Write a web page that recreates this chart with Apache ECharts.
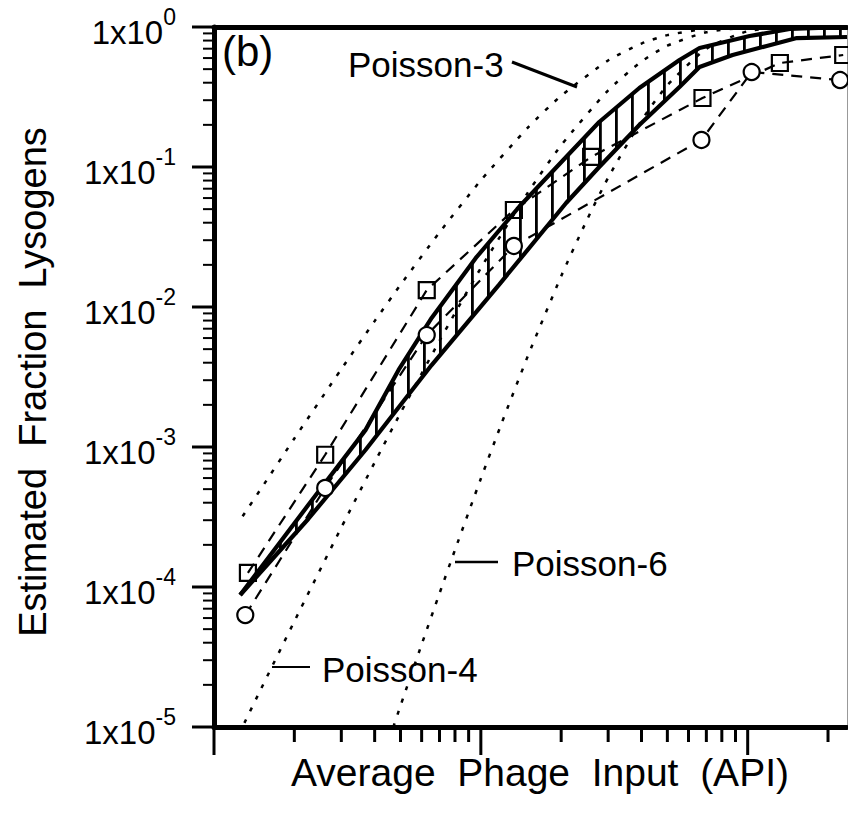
<!DOCTYPE html>
<html>
<head>
<meta charset="utf-8">
<script src="https://cdn.jsdelivr.net/npm/echarts@6/dist/echarts.min.js"></script>
<style>
  html, body { margin: 0; padding: 0; background: #fff; }
  #chart { width: 848px; height: 814px; }
</style>
</head>
<body>
<div id="chart"></div>
<script>
// Measured lysogen fractions vs. average phage input (API)
const squareApi  = [0.134, 0.261, 0.627, 1.33, 2.59, 6.77, 13.2, 22.8];
const squareFrac = [1.26e-4, 8.8e-4, 0.0132, 0.0493, 0.118, 0.311, 0.553, 0.631];
const circleApi  = [0.131, 0.261, 0.627, 1.33, 6.71, 10.35, 22.2];
const circleFrac = [6.3e-5, 5.1e-4, 6.3e-3, 0.0273, 0.156, 0.477, 0.418];

// Model range (hatched band): upper and lower edges
const bandUpperApi  = [0.1253, 0.2255, 0.3695, 0.4917, 0.654, 0.9576, 1.39, 2.087, 2.777, 3.926, 5.552, 6.6, 10.17, 14.38, 23.56];
const bandUpperFrac = [8.77e-5, 3.85e-4, 1.32e-3, 3.55e-3, 8.35e-3, 0.0224, 0.0518, 0.118, 0.2096, 0.3666, 0.581, 0.708, 0.862, 0.968, 1.0];
const bandLowerApi  = [0.1253, 0.2255, 0.3695, 0.654, 1.169, 2.087, 2.777, 3.926, 5.552, 6.6, 8.78, 11.79, 15.28, 23.56];
const bandLowerFrac = [8.77e-5, 3.06e-4, 9.52e-4, 3.85e-3, 0.0144, 0.0553, 0.1, 0.1995, 0.3727, 0.518, 0.631, 0.732, 0.834, 0.848];

// Poisson reference curves
const poisson3Api  = [0.128, 0.15, 0.2, 0.3, 0.4, 0.5, 0.7, 1, 1.5, 2, 3, 4, 5, 7, 10, 15, 23.56];
const poisson3Frac = [3.2e-4, 5.03e-4, 1.15e-3, 3.6e-3, 7.93e-3, 0.0144, 0.0341, 0.0803, 0.191, 0.323, 0.577, 0.762, 0.875, 0.970, 0.997, 1.0, 1.0];
const poisson4Api  = [0.13, 0.15, 0.2, 0.3, 0.4, 0.5, 0.7, 1, 1.5, 2, 3, 4, 5, 7, 10, 15, 23.56];
const poisson4Frac = [1.07e-5, 1.87e-5, 5.68e-5, 2.66e-4, 7.76e-4, 1.75e-3, 5.74e-3, 0.019, 0.0656, 0.143, 0.353, 0.567, 0.735, 0.918, 0.990, 1.0, 1.0];
const poisson6Api  = [0.47, 0.5, 0.6, 0.7, 0.8, 1, 1.2, 1.5, 2, 2.5, 3, 4, 5, 7, 10, 15, 23.56];
const poisson6Frac = [1.0e-5, 1.42e-5, 3.89e-5, 9.0e-5, 1.84e-4, 5.94e-4, 1.5e-3, 4.46e-3, 0.0166, 0.042, 0.0839, 0.215, 0.384, 0.699, 0.933, 0.997, 1.0];

// Axis ranges and tick values
const xRange = [0.1, 23.56];
const yRange = [1e-5, 1];
const xMajorTicks = [0.1, 1, 10];
const xMinorTicks = [0.2, 0.3, 0.4, 0.5, 0.6, 0.7, 0.8, 0.9, 2, 3, 4, 5, 6, 7, 8, 9, 20];
const yMajorTicks = [1e-5, 1e-4, 1e-3, 1e-2, 1e-1, 1];
const yMinorTicks = [];
for (let k = -5; k < 0; k++) {
  for (let m = 2; m <= 9; m++) yMinorTicks.push(m * Math.pow(10, k));
}

const FONT = '"Liberation Sans", Arial, Helvetica, sans-serif';
const zip = (a, b) => a.map((v, i) => [v, b[i]]);

// vertical hatching used inside the model band
const hatch = document.createElement('canvas');
hatch.width = 16; hatch.height = 16;
(function () {
  const g = hatch.getContext('2d');
  g.fillStyle = '#000';
  g.fillRect(7, 0, 2.8, 16);
})();

function tickSeries(values, onX, len, width) {
  return {
    type: 'custom',
    silent: true,
    clip: false,
    z: 5,
    data: values.map(v => onX ? [v, yRange[0]] : [xRange[0], v]),
    encode: { x: 0, y: 1 },
    renderItem(params, api) {
      const p = api.coord([api.value(0), api.value(1)]);
      const shape = onX
        ? { x1: p[0], y1: p[1], x2: p[0], y2: p[1] + len }
        : { x1: p[0], y1: p[1], x2: p[0] - len, y2: p[1] };
      return { type: 'line', shape, style: { stroke: '#000', lineWidth: width } };
    }
  };
}

const chart = echarts.init(document.getElementById('chart'), null, { renderer: 'svg' });

const hiddenAxis = {
  axisTick: { show: false }, axisLabel: { show: false }, splitLine: { show: false }
};
const textStyle = (size, align) => ({
  font: size + 'px ' + FONT, fill: '#000',
  align: align, verticalAlign: 'middle', textAlign: align, textVerticalAlign: 'middle'
});

chart.setOption({
  animation: false,
  backgroundColor: '#fff',
  grid: { left: 214, right: 1, top: 27, bottom: 87 },
  xAxis: [
    Object.assign({ type: 'log', logBase: 10, min: xRange[0], max: xRange[1], position: 'bottom',
      axisLine: { lineStyle: { color: '#000', width: 5 } } }, hiddenAxis),
    Object.assign({ type: 'log', logBase: 10, min: xRange[0], max: xRange[1], position: 'top',
      axisLine: { lineStyle: { color: '#000', width: 5 } } }, hiddenAxis)
  ],
  yAxis: [
    {
      type: 'log', logBase: 10, min: yRange[0], max: yRange[1], position: 'left',
      axisLine: { lineStyle: { color: '#000', width: 5 } },
      axisTick: { show: false },
      splitLine: { show: false },
      axisLabel: {
        margin: 38,
        formatter: v => '{n|1x10}{e|' + Math.round(Math.log10(v)) + '}',
        rich: {
          n: { fontSize: 33, fontFamily: FONT, color: '#000', lineHeight: 44, verticalAlign: 'bottom' },
          e: { fontSize: 23, fontFamily: FONT, color: '#000', lineHeight: 30, verticalAlign: 'top' }
        }
      }
    },
    Object.assign({ type: 'log', logBase: 10, min: yRange[0], max: yRange[1], position: 'right',
      axisLine: { lineStyle: { color: '#999', width: 1 } } }, hiddenAxis)
  ],
  series: [
    {
      type: 'custom',
      name: 'band',
      silent: true,
      z: 1,
      data: [[bandUpperApi[0], bandUpperFrac[0]]],
      encode: { x: 0, y: 1 },
      renderItem(params, api) {
        const pts = [];
        for (let i = 0; i < bandUpperApi.length; i++) pts.push(api.coord([bandUpperApi[i], bandUpperFrac[i]]));
        for (let i = bandLowerApi.length - 1; i >= 0; i--) pts.push(api.coord([bandLowerApi[i], bandLowerFrac[i]]));
        return {
          type: 'polygon',
          shape: { points: pts },
          style: { fill: { image: hatch, repeat: 'repeat', imageWidth: 16, imageHeight: 16 }, stroke: null }
        };
      }
    },
    {
      type: 'line', name: 'band upper', z: 2, symbol: 'none', silent: true,
      data: zip(bandUpperApi, bandUpperFrac),
      lineStyle: { color: '#000', width: 4.2 }
    },
    {
      type: 'line', name: 'band lower', z: 2, symbol: 'none', silent: true,
      data: zip(bandLowerApi, bandLowerFrac),
      lineStyle: { color: '#000', width: 4.2 }
    },
    {
      type: 'line', name: 'Poisson-3', z: 3, symbol: 'none', smooth: 0.2, silent: true,
      data: zip(poisson3Api, poisson3Frac),
      lineStyle: { color: '#000', width: 2.5, type: [4, 9] }
    },
    {
      type: 'line', name: 'Poisson-4', z: 3, symbol: 'none', smooth: 0.2, silent: true,
      data: zip(poisson4Api, poisson4Frac),
      lineStyle: { color: '#000', width: 2.5, type: [4, 9] }
    },
    {
      type: 'line', name: 'Poisson-6', z: 3, symbol: 'none', smooth: 0.2, silent: true,
      data: zip(poisson6Api, poisson6Frac),
      lineStyle: { color: '#000', width: 2.5, type: [4, 9] }
    },
    {
      type: 'line', name: 'squares', z: 4, silent: true,
      data: zip(squareApi, squareFrac),
      symbol: 'rect', symbolSize: 16, showAllSymbol: true,
      itemStyle: { color: 'rgba(0,0,0,0)', borderColor: '#000', borderWidth: 2.2 },
      lineStyle: { color: '#000', width: 2.2, type: [11, 8] }
    },
    {
      type: 'line', name: 'circles', z: 4, silent: true,
      data: zip(circleApi, circleFrac),
      symbol: 'circle', symbolSize: 16, showAllSymbol: true,
      itemStyle: { color: '#fff', borderColor: '#000', borderWidth: 2.2 },
      lineStyle: { color: '#000', width: 2.2, type: [11, 8] }
    },
    tickSeries(xMajorTicks, true, 28, 3),
    tickSeries(xMinorTicks, true, 15, 3),
    tickSeries(yMajorTicks, false, 22, 3),
    tickSeries(yMinorTicks, false, 11, 2)
  ],
  graphic: [
    { type: 'text', x: 222, y: 51, z: 10, style: Object.assign({ text: '(b)' }, textStyle(42, 'left')) },
    { type: 'text', x: 348, y: 64, z: 10, style: Object.assign({ text: 'Poisson-3' }, textStyle(35, 'left')) },
    { type: 'line', z: 10, shape: { x1: 512, y1: 62, x2: 577, y2: 87 }, style: { stroke: '#000', lineWidth: 3 } },
    { type: 'text', x: 512, y: 563, z: 10, style: Object.assign({ text: 'Poisson-6' }, textStyle(35, 'left')) },
    { type: 'line', z: 10, shape: { x1: 455, y1: 562, x2: 498, y2: 562 }, style: { stroke: '#000', lineWidth: 2.5 } },
    { type: 'text', x: 322, y: 669, z: 10, style: Object.assign({ text: 'Poisson-4' }, textStyle(35, 'left')) },
    { type: 'line', z: 10, shape: { x1: 272, y1: 667, x2: 310, y2: 667 }, style: { stroke: '#000', lineWidth: 2 } },
    { type: 'text', x: 540, y: 772, z: 10, style: Object.assign({ text: 'Average  Phage  Input  (API)' }, textStyle(39, 'center')) },
    { type: 'text', x: 33, y: 382, z: 10, rotation: Math.PI / 2,
      style: Object.assign({ text: 'Estimated  Fraction  Lysogens' }, textStyle(38, 'center')) }
  ]
});
</script>
</body>
</html>
